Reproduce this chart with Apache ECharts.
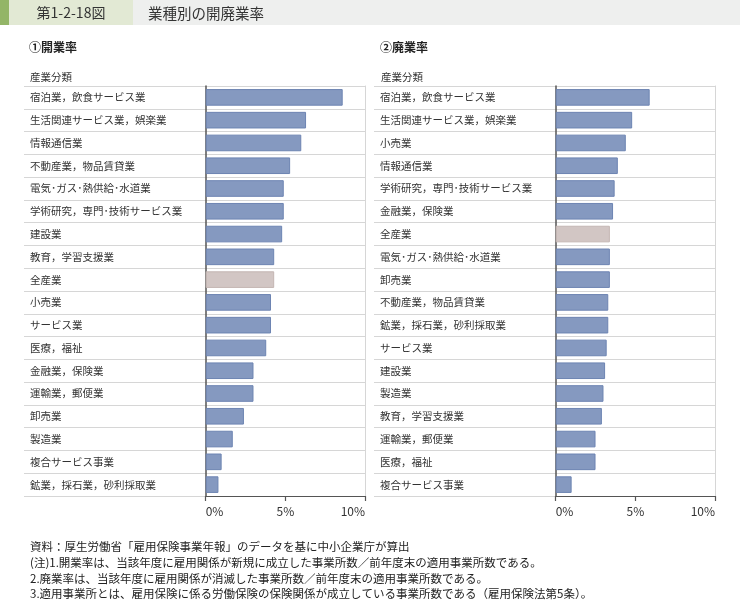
<!DOCTYPE html>
<html>
<head>
<meta charset="utf-8">
<script src="https://cdn.jsdelivr.net/npm/echarts@6/dist/echarts.min.js"></script>
<style>
html,body{margin:0;padding:0;background:#fff;}
#chart{width:740px;height:601px;}
</style>
</head>
<body>
<div id="chart"></div>
<script>
// ---- data ----
const openCategories = ['宿泊業，飲食サービス業','生活関連サービス業，娯楽業','情報通信業','不動産業，物品賃貸業','電気･ガス･熱供給･水道業','学術研究，専門･技術サービス業','建設業','教育，学習支援業','全産業','小売業','サービス業','医療，福祉','金融業，保険業','運輸業，郵便業','卸売業','製造業','複合サービス事業','鉱業，採石業，砂利採取業'];
const openValues = [8.6, 6.3, 6.0, 5.3, 4.9, 4.9, 4.8, 4.3, 4.3, 4.1, 4.1, 3.8, 3.0, 3.0, 2.4, 1.7, 1.0, 0.8];
const closeCategories = ['宿泊業，飲食サービス業','生活関連サービス業，娯楽業','小売業','情報通信業','学術研究，専門･技術サービス業','金融業，保険業','全産業','電気･ガス･熱供給･水道業','卸売業','不動産業，物品賃貸業','鉱業，採石業，砂利採取業','サービス業','建設業','製造業','教育，学習支援業','運輸業，郵便業','医療，福祉','複合サービス事業'];
const closeValues = [5.9, 4.8, 4.4, 3.9, 3.7, 3.6, 3.4, 3.4, 3.4, 3.3, 3.3, 3.2, 3.1, 3.0, 2.9, 2.5, 2.5, 1.0];
const totalName = '全産業';
const valueTicks = [0, 5, 10];
const footnotes = [
  '資料：厚生労働省「雇用保険事業年報」のデータを基に中小企業庁が算出',
  '(注)1.開業率は、当該年度に雇用関係が新規に成立した事業所数／前年度末の適用事業所数である。',
  '2.廃業率は、当該年度に雇用関係が消滅した事業所数／前年度末の適用事業所数である。',
  '3.適用事業所とは、雇用保険に係る労働保険の保険関係が成立している事業所数である（雇用保険法第5条）。'
];

// ---- styles ----
const FONT = '"Noto Sans CJK JP", "Noto Sans", sans-serif';
const barBlue = '#8599c0', barBlueBorder = '#6d84b2';
const barTotal = '#d2c6c4', barTotalBorder = '#c4b6b3';
const sepColor = '#d6d6d6';
const axisDark = '#555555';
const gridTop = 86, gridHeight = 410;

function panelAxes(idxBase, cats) {
  return cats;
}

const chart = echarts.init(document.getElementById('chart'), null, {renderer: 'canvas'});

function buildData(cats, vals) {
  return vals.map((v, i) => ({
    value: v,
    itemStyle: cats[i] === totalName
      ? {color: barTotal, borderColor: barTotalBorder, borderWidth: 1}
      : {color: barBlue, borderColor: barBlueBorder, borderWidth: 1}
  }));
}

const panels = [
  {wideLeft: 24, barLeft: 205.7, right: 365, cats: openCategories, vals: openValues},
  {wideLeft: 374, barLeft: 555.7, right: 715, cats: closeCategories, vals: closeValues}
];

const grids = [], xAxes = [], yAxes = [], series = [];
panels.forEach((p, k) => {
  const gWide = grids.length;
  grids.push({left: p.wideLeft, top: gridTop, width: p.right - p.wideLeft, height: gridHeight});
  const gBar = grids.length;
  grids.push({left: p.barLeft, top: gridTop, width: p.right - p.barLeft, height: gridHeight});

  // wide grid: row separators across label area
  const xWide = xAxes.length;
  xAxes.push({gridIndex: gWide, type: 'value', show: false, min: 0, max: 1});
  const yWide = yAxes.length;
  yAxes.push({
    gridIndex: gWide, type: 'category', data: p.cats, inverse: true,
    axisLine: {show: false}, axisTick: {show: false}, axisLabel: {show: false},
    splitLine: {show: true, lineStyle: {color: sepColor, width: 1}}
  });

  // bar grid
  const xBar = xAxes.length;
  xAxes.push({
    gridIndex: gBar, type: 'value', min: valueTicks[0], max: valueTicks[valueTicks.length - 1],
    interval: valueTicks[1] - valueTicks[0],
    axisLine: {show: true, lineStyle: {color: axisDark, width: 1.2}},
    axisTick: {show: true, length: 5, lineStyle: {color: axisDark, width: 1.2}},
    axisLabel: {
      formatter: '{value}%', color: '#333', fontSize: 12, fontFamily: FONT, margin: 9,
      alignMinLabel: 'left', alignMaxLabel: 'right'
    },
    splitLine: {show: false}
  });
  const yBar = yAxes.length;
  yAxes.push({
    gridIndex: gBar, type: 'category', data: p.cats, inverse: true,
    axisLine: {show: true, lineStyle: {color: axisDark, width: 1.5}},
    axisTick: {show: false},
    axisLabel: {
      align: 'left', margin: p.barLeft - p.wideLeft - 6,
      color: '#333', fontSize: 10.5, fontFamily: FONT, interval: 0
    },
    splitLine: {show: false}
  });
  yAxes.push({
    gridIndex: gBar, type: 'category', data: p.cats, inverse: true, position: 'right',
    axisLine: {show: true, onZero: false, lineStyle: {color: sepColor, width: 1}},
    axisTick: {show: false}, axisLabel: {show: false}, splitLine: {show: false}
  });

  series.push({
    type: 'bar', xAxisIndex: xBar, yAxisIndex: yBar,
    data: buildData(p.cats, p.vals),
    barCategoryGap: '27%', silent: true, animation: false
  });
});

const graphics = [
  {type: 'rect', shape: {x: 0, y: 0, width: 740, height: 25}, style: {fill: '#eeefee'}},
  {type: 'rect', shape: {x: 9, y: 0, width: 124, height: 25}, style: {fill: '#e2e9d4'}},
  {type: 'rect', shape: {x: 0, y: 0, width: 9, height: 25}, style: {fill: '#93b567'}},
  {type: 'text', x: 71, y: 13, style: {text: '第1-2-18図', fill: '#333', font: '14px ' + FONT, textAlign: 'center', textVerticalAlign: 'middle'}},
  {type: 'text', x: 148, y: 13, style: {text: '業種別の開廃業率', fill: '#333', font: '14.5px ' + FONT, textAlign: 'left', textVerticalAlign: 'middle'}},
  {type: 'text', x: 29, y: 47, style: {text: '①開業率', fill: '#222', font: 'bold 12px ' + FONT, textVerticalAlign: 'middle'}},
  {type: 'text', x: 380, y: 47, style: {text: '②廃業率', fill: '#222', font: 'bold 12px ' + FONT, textVerticalAlign: 'middle'}},
  {type: 'text', x: 30, y: 77, style: {text: '産業分類', fill: '#333', font: '10.5px ' + FONT, textVerticalAlign: 'middle'}},
  {type: 'text', x: 381, y: 77, style: {text: '産業分類', fill: '#333', font: '10.5px ' + FONT, textVerticalAlign: 'middle'}}
];
footnotes.forEach((t, i) => {
  graphics.push({type: 'text', x: 30, y: 547 + i * 15.7, style: {text: t, fill: '#222', font: '11.5px ' + FONT, textVerticalAlign: 'middle'}});
});

chart.setOption({
  animation: false,
  backgroundColor: '#ffffff',
  grid: grids,
  xAxis: xAxes,
  yAxis: yAxes,
  series: series,
  graphic: graphics
});
</script>
</body>
</html>
